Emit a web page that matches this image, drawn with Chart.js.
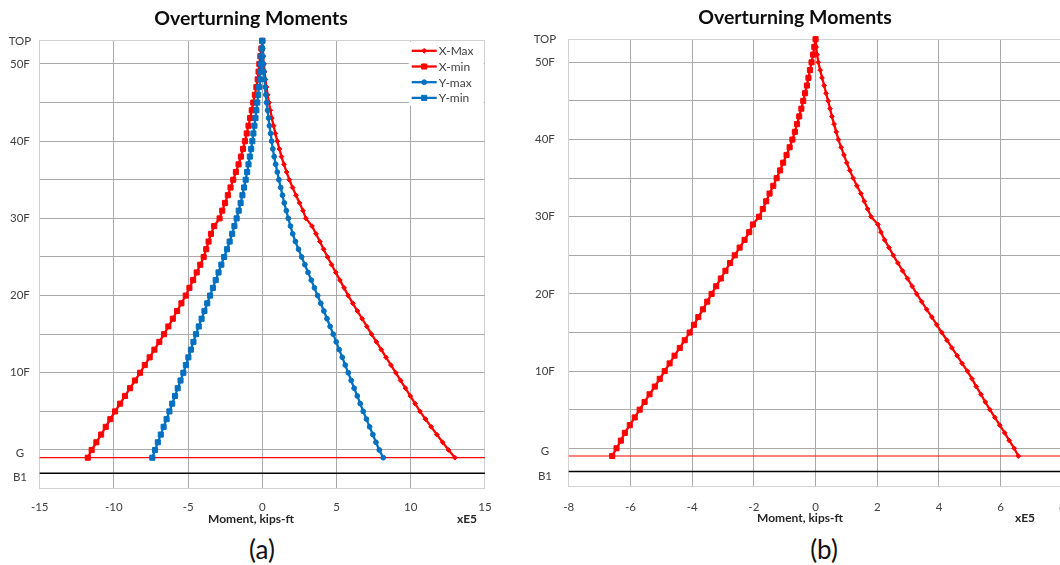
<!DOCTYPE html>
<html>
<head>
<meta charset="utf-8">
<title>Overturning Moments</title>
<script src="https://cdn.jsdelivr.net/npm/chart.js@4.4.1/dist/chart.umd.min.js"></script>
<style>
  html, body { margin: 0; padding: 0; width: 1060px; height: 565px; overflow: hidden; background: #fff; }
  body { position: relative; font-family: Lato, "Open Sans", sans-serif; }
  canvas { position: absolute; top: 0; }
  .txt { position: absolute; white-space: nowrap; transform: translate(-50%, -50%); line-height: 1; }
  .title { font-weight: bold; font-size: 19.5px; color: #0d0d0d; }
  .axis { font-weight: bold; font-size: 12px; color: #262626; }
  .cap { font-size: 26px; color: #111; }
</style>
</head>
<body>
<canvas id="chartA" width="530" height="530" style="left:0px"></canvas>
<canvas id="chartB" width="560" height="530" style="left:530px"></canvas>

<div class="txt title" style="left:251px; top:18px">Overturning Moments</div>
<div class="txt title" style="left:795px; top:17px">Overturning Moments</div>
<div class="txt axis" style="left:251px; top:519px">Moment, kips-ft</div>
<div class="txt axis" style="left:467px; top:519px">xE5</div>
<div class="txt axis" style="left:800px; top:518px">Moment, kips-ft</div>
<div class="txt axis" style="left:1025px; top:518px">xE5</div>
<div class="txt cap" style="left:262px; top:549px">(a)</div>
<div class="txt cap" style="left:824px; top:549px">(b)</div>

<script>
// Storey levels, from the grade line (-1) up to the roof (53)
const floorLevels = [
  -1, 0, 1, 2, 3, 4, 5, 6, 7, 8,
  9, 10, 11, 12, 13, 14, 15, 16, 17, 18,
  19, 20, 21, 22, 23, 24, 25, 26, 27, 28,
  29, 30, 31, 32, 33, 34, 35, 36, 37, 38,
  39, 40, 41, 42, 43, 44, 45, 46, 47, 48,
  49, 50, 51, 52, 53
];

// (a) overturning moments per storey, x 1E5 kips-ft
const xMaxA = [
  12.98, 12.55, 12.15, 11.76, 11.38, 11.00, 10.62, 10.30, 9.97, 9.65,
  9.32, 9.00, 8.67, 8.34, 8.02, 7.69, 7.36, 7.04, 6.73, 6.41,
  6.10, 5.79, 5.51, 5.23, 4.95, 4.67, 4.40, 4.13, 3.88, 3.62,
  3.35, 2.94, 2.74, 2.51, 2.27, 2.04, 1.82, 1.64, 1.46, 1.29,
  1.15, 1.01, 0.88, 0.76, 0.64, 0.54, 0.45, 0.36, 0.28, 0.21,
  0.15, 0.11, 0.07, 0.03, 0.00
];
const xMinA = [
  -11.76, -11.50, -11.18, -10.86, -10.55, -10.24, -9.92, -9.58, -9.25, -8.91,
  -8.58, -8.24, -7.92, -7.59, -7.27, -6.94, -6.62, -6.33, -6.03, -5.74,
  -5.45, -5.16, -4.91, -4.66, -4.42, -4.18, -3.95, -3.78, -3.62, -3.46,
  -3.24, -2.88, -2.70, -2.51, -2.32, -2.14, -1.96, -1.78, -1.60, -1.44,
  -1.30, -1.17, -1.05, -0.93, -0.82, -0.71, -0.61, -0.50, -0.40, -0.31,
  -0.25, -0.20, -0.13, -0.06, 0.00
];
const yMaxA = [
  8.15, 7.88, 7.66, 7.45, 7.23, 7.02, 6.80, 6.60, 6.40, 6.19,
  5.99, 5.79, 5.59, 5.39, 5.18, 4.98, 4.78, 4.57, 4.36, 4.15,
  3.94, 3.73, 3.51, 3.30, 3.08, 2.87, 2.65, 2.44, 2.23, 2.05,
  1.90, 1.75, 1.62, 1.48, 1.36, 1.24, 1.12, 1.01, 0.90, 0.80,
  0.71, 0.63, 0.56, 0.48, 0.42, 0.35, 0.29, 0.24, 0.20, 0.15,
  0.11, 0.07, 0.04, 0.02, 0.00
];
const yMinA = [
  -7.41, -7.23, -7.04, -6.84, -6.65, -6.45, -6.26, -6.07, -5.88, -5.70,
  -5.51, -5.32, -5.15, -4.98, -4.81, -4.64, -4.47, -4.28, -4.09, -3.90,
  -3.71, -3.52, -3.33, -3.14, -2.95, -2.76, -2.57, -2.38, -2.20, -2.03,
  -1.88, -1.73, -1.59, -1.46, -1.34, -1.23, -1.12, -1.02, -0.93, -0.84,
  -0.75, -0.67, -0.60, -0.53, -0.46, -0.40, -0.34, -0.28, -0.22, -0.17,
  -0.13, -0.09, -0.06, -0.03, 0.00
];

// (b) overturning moments per storey, x 1E5 kips-ft
const xMaxB = [
  6.57, 6.44, 6.28, 6.13, 5.97, 5.81, 5.65, 5.50, 5.36, 5.21,
  5.07, 4.92, 4.75, 4.59, 4.42, 4.26, 4.09, 3.93, 3.77, 3.60,
  3.44, 3.28, 3.13, 2.98, 2.82, 2.67, 2.52, 2.38, 2.24, 2.12,
  2.02, 1.80, 1.69, 1.58, 1.47, 1.34, 1.22, 1.11, 1.01, 0.92,
  0.83, 0.74, 0.67, 0.60, 0.53, 0.47, 0.41, 0.34, 0.28, 0.21,
  0.15, 0.09, 0.05, 0.02, 0.00
];
const xMinB = [
  -6.59, -6.45, -6.31, -6.18, -6.02, -5.86, -5.70, -5.54, -5.38, -5.21,
  -5.05, -4.89, -4.73, -4.57, -4.40, -4.24, -4.08, -3.94, -3.80, -3.65,
  -3.51, -3.37, -3.22, -3.07, -2.92, -2.77, -2.62, -2.46, -2.30, -2.15,
  -2.03, -1.83, -1.71, -1.60, -1.49, -1.37, -1.26, -1.15, -1.05, -0.94,
  -0.84, -0.75, -0.67, -0.60, -0.53, -0.46, -0.40, -0.34, -0.28, -0.23,
  -0.18, -0.13, -0.08, -0.04, 0.00
];

// Storey axis labels and where they sit
const floorTickLabels = ['TOP', '50F', '40F', '30F', '20F', '10F', 'G', 'B1'];
const floorTickLevels = [53, 50, 40, 30, 20, 10, -0.4, -3.6];
const gridLevels = [-5, 0, 5, 10, 15, 20, 25, 30, 35, 40, 45, 50];
const levelMin = -5;
const levelMax = 53;
const gradeLevel = -1;     // ground line (red)
const basementLevel = -3;  // basement line (black)

// Moment axis ticks
const momentTicksA = [-15, -10, -5, 0, 5, 10, 15];
const momentTicksB = [-8, -6, -4, -2, 0, 2, 4, 6, 8];

const FONT = 'Lato, "Open Sans", sans-serif';
const GRID = '#a9a9a9';
const EDGE = '#d2d2d2';
const LABEL = '#404040';
const RED = '#ff0000';
const BLUE = '#0070c0';

function seriesPoints(values) {
  return values.map((v, i) => ({ x: v, y: floorLevels[i] }));
}

function momentSeries(label, values, color, pointStyle, radius, order) {
  return {
    label, data: seriesPoints(values), showLine: true,
    borderColor: color, backgroundColor: color, borderWidth: 2.3,
    pointStyle, pointRadius: radius, pointBorderWidth: 1,
    pointBorderColor: color, pointBackgroundColor: color,
    tension: 0, order, clip: false
  };
}

function levelLine(level, xFrom, xTo, color, width) {
  return {
    label: '', guide: true,
    data: [{ x: xFrom, y: level }, { x: xTo, y: level }],
    showLine: true, borderColor: color, backgroundColor: color,
    borderWidth: width, pointRadius: 0, order: 10, clip: false
  };
}

// Legend box drawn in the upper-right corner of the plot area
const cornerLegend = {
  id: 'cornerLegend',
  afterDatasetsDraw(chart, args, opts) {
    if (!opts || !opts.show) return;
    const { ctx, chartArea, scales } = chart;
    const items = chart.data.datasets.filter(d => !d.guide);
    const left = scales.x.getPixelForValue(opts.fromValue) - 2;
    const top = chartArea.top + 1;
    const right = chartArea.right - 1;
    const rowH = 15.7;
    ctx.save();
    ctx.fillStyle = '#ffffff';
    ctx.fillRect(left, top, right - left, rowH * items.length + 1);
    items.forEach((d, i) => {
      const y = top + 9 + i * rowH;
      ctx.strokeStyle = d.borderColor;
      ctx.lineWidth = 2.3;
      ctx.beginPath();
      ctx.moveTo(left + 3, y);
      ctx.lineTo(left + 28, y);
      ctx.stroke();
      ctx.fillStyle = d.backgroundColor;
      ctx.lineWidth = 1;
      Chart.helpers.drawPoint(ctx, { pointStyle: d.pointStyle, radius: d.pointRadius, borderWidth: 1, rotation: 0 }, left + 15.5, y);
      ctx.fillStyle = LABEL;
      ctx.font = '12px ' + FONT;
      ctx.textAlign = 'left';
      ctx.textBaseline = 'middle';
      ctx.fillText(d.label, left + 30, y + 0.5);
    });
    ctx.restore();
  }
};

function buildChart(canvasId, spec) {
  const datasets = spec.series.slice();
  datasets.push(levelLine(gradeLevel, spec.xMin, spec.xMax, RED, 1.2));
  datasets.push(levelLine(basementLevel, spec.xMin, spec.xMax, '#000000', 1.5));

  const yTickValues = Array.from(new Set([...gridLevels, ...floorTickLevels, levelMax]))
    .sort((a, b) => a - b);

  return new Chart(document.getElementById(canvasId), {
    type: 'scatter',
    data: { datasets },
    plugins: [cornerLegend],
    options: {
      responsive: false,
      animation: false,
      devicePixelRatio: 1,
      events: [],
      layout: { padding: { top: spec.padTop, right: spec.padRight, left: 0, bottom: 0 } },
      plugins: {
        legend: { display: false },
        tooltip: { enabled: false },
        title: { display: false },
        cornerLegend: { show: spec.legend, fromValue: spec.legendFrom }
      },
      scales: {
        x: {
          type: 'linear', position: 'bottom',
          min: spec.xMin, max: spec.xMax,
          afterBuildTicks: s => { s.ticks = spec.xTicks.map(v => ({ value: v })); },
          afterFit: s => { s.height = spec.xAxisHeight; },
          grid: {
            drawTicks: false, lineWidth: 1,
            color: c => (c.tick && (c.tick.value === spec.xMin || c.tick.value === spec.xMax)) ? EDGE : GRID
          },
          border: { color: EDGE, width: 1 },
          ticks: {
            autoSkip: false, maxRotation: 0, padding: spec.xLabelPad,
            color: LABEL, font: { family: FONT, size: 11.5 },
            callback: v => String(v)
          }
        },
        y: {
          type: 'linear', position: 'left',
          min: levelMin, max: levelMax,
          afterBuildTicks: s => { s.ticks = yTickValues.map(v => ({ value: v })); },
          afterFit: s => { s.width = spec.yAxisWidth; },
          grid: {
            drawTicks: false, lineWidth: 1,
            color: c => {
              const v = c.tick ? c.tick.value : null;
              if (v === levelMin || v === levelMax) return EDGE;
              return gridLevels.includes(v) ? GRID : 'rgba(0,0,0,0)';
            }
          },
          border: { color: EDGE, width: 1 },
          ticks: {
            autoSkip: false, crossAlign: 'center', padding: spec.yLabelPad,
            color: LABEL, font: { family: FONT, size: 11.5 },
            callback: v => {
              const i = floorTickLevels.indexOf(v);
              return i < 0 ? '' : floorTickLabels[i];
            }
          }
        }
      }
    }
  });
}

buildChart('chartA', {
  xMin: -15, xMax: 15, xTicks: momentTicksA,
  padTop: 40.8, padRight: 45.1, yAxisWidth: 39.7, xAxisHeight: 41.4,
  xLabelPad: 12, yLabelPad: 8.5,
  legend: true, legendFrom: 10,
  series: [
    momentSeries('X-Max', xMaxA, RED, 'rectRot', 2.4, 2),
    momentSeries('X-min', xMinA, RED, 'rect', 3.6, 2),
    momentSeries('Y-max', yMaxA, BLUE, 'circle', 2.4, 1),
    momentSeries('Y-min', yMinA, BLUE, 'rect', 3.6, 1)
  ]
});

buildChart('chartB', {
  xMin: -8, xMax: 8, xTicks: momentTicksB,
  padTop: 39.2, padRight: 27.6, yAxisWidth: 38.7, xAxisHeight: 43.1,
  xLabelPad: 13, yLabelPad: 12.5,
  legend: false, legendFrom: 0,
  series: [
    momentSeries('X-Max', xMaxB, RED, 'rectRot', 2.4, 2),
    momentSeries('X-min', xMinB, RED, 'rect', 3.6, 2)
  ]
});
</script>
</body>
</html>
